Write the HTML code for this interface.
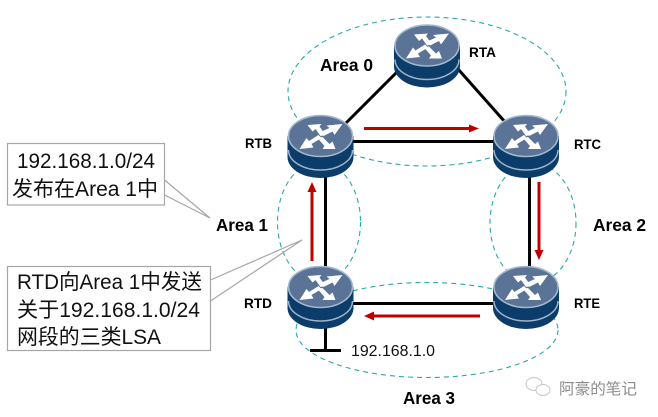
<!DOCTYPE html>
<html><head><meta charset="utf-8">
<style>html,body{margin:0;padding:0;background:#fff;width:658px;height:417px;overflow:hidden}svg{display:block}
text{font-family:"Liberation Sans","Noto Sans CJK SC",sans-serif}</style></head>
<body>
<svg width="658" height="417" viewBox="0 0 658 417" xmlns="http://www.w3.org/2000/svg">
<defs>
<g id="r">
<path d="M-33 0V21A33 21 0 0 0 33 21V0Z" fill="#0c3c69"/>
<path d="M-32 14A32 20 0 0 0 32 14" fill="none" stroke="#9db4c8" stroke-width="1.5"/>
<ellipse cx="0" cy="0" rx="32" ry="20.5" fill="#5a7396" stroke="#a3b8cc" stroke-width="1.6"/>
<g fill="#fff">
<path d="M-13-11 L1-12 L-1-9.5 L5-1 L0 0 L-5-7 L-8-4.5Z"/>
<path d="M23-11 L15 0 L13-3.5 L4 1 L1-3 L10-7 L7-9.5Z" transform="translate(-1 -1)"/>
<path d="M-21 13 L-14 2 L-11.5 5 L-2-1 L1 2 L-9 8 L-7 11.5Z"/>
<path d="M15 13 L2 13 L4 10 L-3 2 L2 1 L9 8 L12 5.5Z"/>
</g>
</g>
</defs>

<g fill="none" stroke="#2aa9a6" stroke-width="1.1" stroke-dasharray="5 4">
<ellipse cx="427" cy="91.500" rx="139" ry="74.500"/>
<ellipse cx="319" cy="222" rx="41.500" ry="60"/>
<ellipse cx="533" cy="223" rx="43" ry="60"/>
<ellipse cx="427" cy="330" rx="131" ry="47.500"/>
</g>

<g stroke="#000" stroke-width="3" fill="none">
<path d="M346 123L398 71"/>
<path d="M458 69L505 122"/>
<path d="M350 141.500H496"/>
<path d="M325.500 175V268"/>
<path d="M529.500 175V268"/>
<path d="M350 303.500H496"/>
<path d="M325.500 327V351"/>
<path d="M310 350.500H341"/>
</g>

<g fill="#c00000">
<rect x="364" y="127" width="105" height="3"/><path d="M479 128.500L469 124.500V132.500Z"/>
<rect x="537.500" y="182" width="3" height="68"/><path d="M539 260L534.500 250H543.500Z"/>
<rect x="310.500" y="192" width="3" height="69"/><path d="M312 182L307.500 192H316.500Z"/>
<rect x="374" y="314.500" width="106" height="3"/><path d="M364 316L374 311.500V320.500Z"/>
</g>

<use href="#r" x="427" y="45.500"/>
<use href="#r" x="320.500" y="136"/>
<use href="#r" x="526" y="136"/>
<use href="#r" x="320.500" y="287"/>
<use href="#r" x="526" y="287"/>

<g fill="none" stroke="#a6a6a6" stroke-width="1.2">
<path d="M164.500 180L210 218M164.500 195L210 218"/>
<path d="M210.500 280L302 240M210.500 301L302 240"/>
</g>
<rect x="7.500" y="143.500" width="157" height="61.500" fill="#fff" stroke="#a6a6a6" stroke-width="1.2"/>
<rect x="7.500" y="266.500" width="203" height="84" fill="#fff" stroke="#a6a6a6" stroke-width="1.2"/>

<g font-size="21" fill="#111">
<text x="17" y="168" textLength="138" lengthAdjust="spacingAndGlyphs">192.168.1.0/24</text>
<text x="12" y="196" textLength="146" lengthAdjust="spacingAndGlyphs">发布在Area 1中</text>
<text x="17" y="289" textLength="185" lengthAdjust="spacingAndGlyphs">RTD向Area 1中发送</text>
<text x="17" y="317" textLength="183" lengthAdjust="spacingAndGlyphs">关于192.168.1.0/24</text>
<text x="17" y="344" textLength="144" lengthAdjust="spacingAndGlyphs">网段的三类LSA</text>
</g>

<g font-size="17.500" font-weight="bold" fill="#000">
<text x="320" y="71" textLength="53" lengthAdjust="spacingAndGlyphs">Area 0</text>
<text x="216" y="231" textLength="52" lengthAdjust="spacingAndGlyphs">Area 1</text>
<text x="593" y="231" textLength="53" lengthAdjust="spacingAndGlyphs">Area 2</text>
<text x="403" y="404" textLength="52" lengthAdjust="spacingAndGlyphs">Area 3</text>
</g>
<g font-size="14" font-weight="bold" fill="#000">
<text x="469" y="57" textLength="27" lengthAdjust="spacingAndGlyphs">RTA</text>
<text x="245" y="148" textLength="27" lengthAdjust="spacingAndGlyphs">RTB</text>
<text x="574" y="149" textLength="27" lengthAdjust="spacingAndGlyphs">RTC</text>
<text x="244" y="308" textLength="28" lengthAdjust="spacingAndGlyphs">RTD</text>
<text x="574" y="308" textLength="26" lengthAdjust="spacingAndGlyphs">RTE</text>
</g>
<text x="351" y="356" font-size="16" fill="#111" textLength="84" lengthAdjust="spacingAndGlyphs">192.168.1.0</text>

<g fill="#fff" stroke="#c4c4c4" stroke-width="1">
<ellipse cx="534" cy="384" rx="8" ry="6.500"/>
<ellipse cx="543" cy="390" rx="7" ry="5.500"/>
</g>
<text x="559" y="394" font-size="15.500" fill="#8c8c8c" textLength="78" lengthAdjust="spacingAndGlyphs">阿豪的笔记</text>
</svg>
</body></html>
